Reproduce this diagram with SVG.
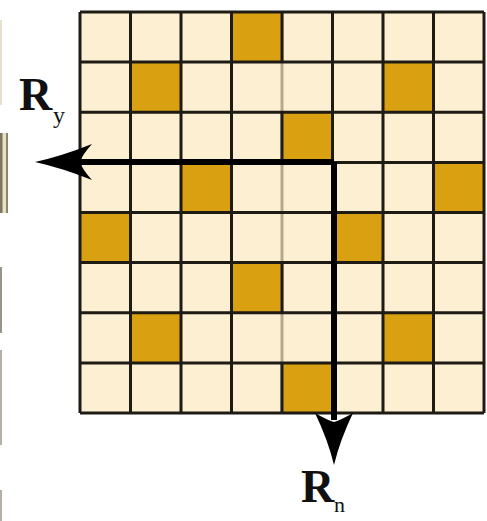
<svg xmlns="http://www.w3.org/2000/svg" width="487" height="521" viewBox="0 0 487 521">
<defs>
<style>
.lt{fill:#fdf0d2}
.gd{fill:#d9a012}
.gl{stroke:#1e1a14;stroke-width:3;fill:none}
.gy{stroke:#b3a98e;stroke-width:3;fill:none}
.ar{stroke:#000;stroke-width:6;fill:none}
</style>
</defs>
<rect width="487" height="521" fill="#ffffff"/>
<g id="edge">
<rect x="0" y="133" width="8" height="80" fill="#e9dfc2"/>
<rect x="0" y="133" width="2.5" height="80" fill="#7d7563"/>
<rect x="6" y="133" width="2" height="80" fill="#8d8470"/>
<rect x="0" y="267" width="2" height="66" fill="#9a9486"/>
<rect x="0" y="20" width="2" height="85" fill="#e6e0cc"/>
<rect x="0" y="350" width="2" height="95" fill="#b5b0a2"/>
<rect x="0" y="490" width="2" height="31" fill="#b5b0a2"/>
</g>
<g id="grid">
<rect class="lt" x="80" y="12" width="404" height="401"/>
<g id="gold-cells">
<rect class="gd" x="231.5" y="12" width="50.5" height="50.1"/>
<rect class="gd" x="130.5" y="62.1" width="50.5" height="50.1"/>
<rect class="gd" x="383" y="62.1" width="50.5" height="50.1"/>
<rect class="gd" x="282" y="112.2" width="50.5" height="50.1"/>
<rect class="gd" x="181" y="162.4" width="50.5" height="50.1"/>
<rect class="gd" x="433.5" y="162.4" width="50.5" height="50.1"/>
<rect class="gd" x="80" y="212.5" width="50.5" height="50.1"/>
<rect class="gd" x="332.5" y="212.5" width="50.5" height="50.1"/>
<rect class="gd" x="231.5" y="262.6" width="50.5" height="50.1"/>
<rect class="gd" x="130.5" y="312.7" width="50.5" height="50.1"/>
<rect class="gd" x="383" y="312.7" width="50.5" height="50.1"/>
<rect class="gd" x="282" y="362.9" width="50.5" height="50.1"/>
</g>
<path class="gy" d="M282 12V413"/>
<path class="gl" d="M80 12H484M80 62.1H484M80 112.2H484M80 162.4H484M80 212.5H484M80 262.6H484M80 312.7H484M80 362.9H484M80 413H484"/>
<path class="gl" d="M80 12V413M130.5 12V413M181 12V413M231.5 12V413M332.5 12V413M383 12V413M433.5 12V413M484 12V413"/>
<path class="gl" d="M282 12V62.1M282 112.2V162.4M282 262.6V312.7M282 362.9V413"/>
</g>
<g id="connectors">
<path class="ar" d="M334 162H80"/>
<path d="M35 162 Q62 156 92 144 Q82 155 80 162 Q82 169 92 180 Q62 168 35 162Z" fill="#000"/>
<path class="ar" d="M334 162V420"/>
<path d="M334 465 Q340 440 353 413 Q341 420 334 422 Q327 420 315 413 Q328 440 334 465Z" fill="#000"/>
</g>
<g id="label-ry" font-family="'Liberation Serif', 'DejaVu Serif', serif" fill="#111">
<text x="19" y="110" font-size="46" font-weight="bold">R</text>
<text x="53" y="123" font-size="24">y</text>
</g>
<g id="label-rn" font-family="'Liberation Serif', 'DejaVu Serif', serif" fill="#111">
<text x="301" y="502" font-size="46" font-weight="bold">R</text>
<text x="334" y="512" font-size="22">n</text>
</g>
</svg>
